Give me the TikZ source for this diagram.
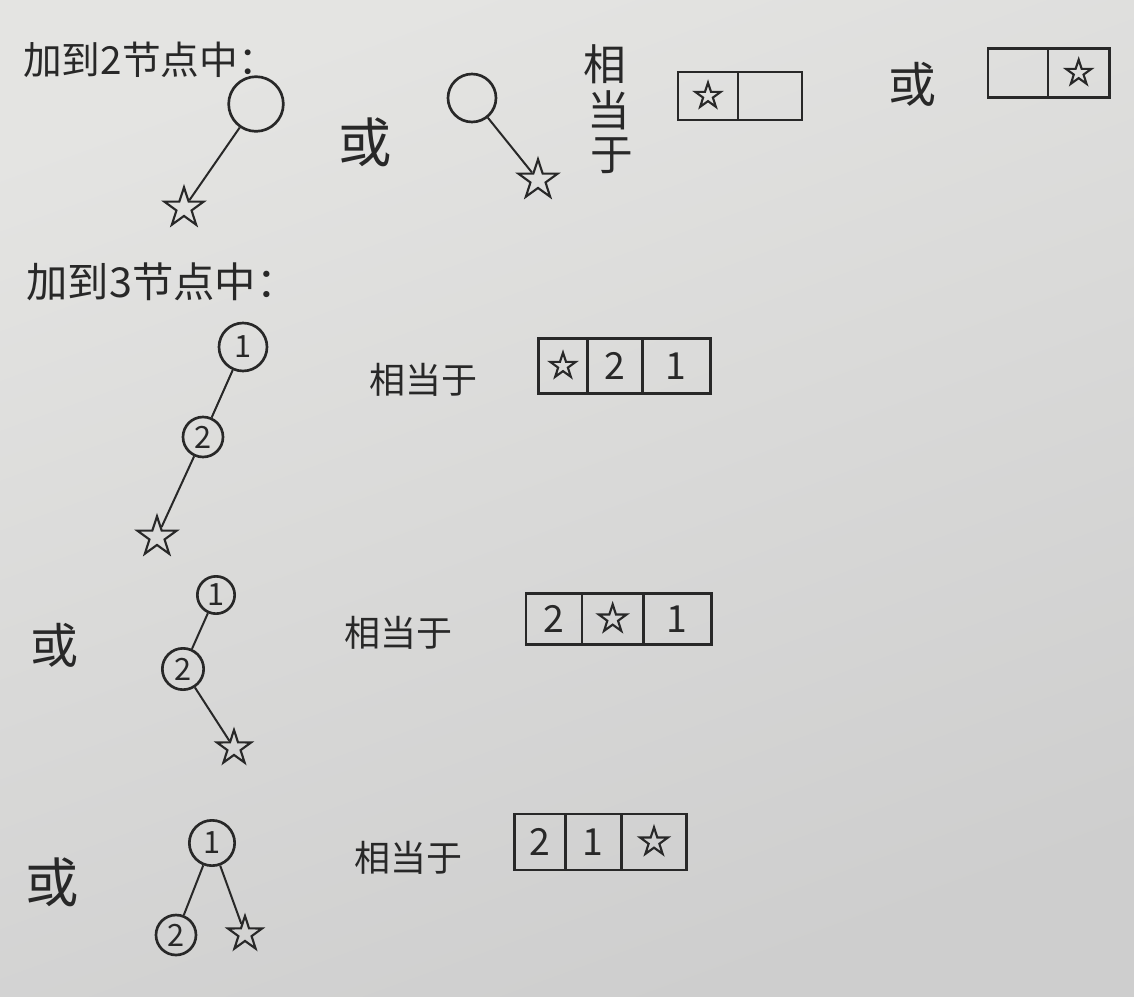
\documentclass[tikz,border=0pt]{standalone}
\usepackage{fontspec}
\newfontfamily\cjk{Noto Sans CJK SC}
\usetikzlibrary{shapes.geometric}
\definecolor{paperA}{RGB}{228,228,226}
\definecolor{paperB}{RGB}{206,206,206}
\definecolor{ink}{RGB}{40,40,40}
\begin{document}
\begin{tikzpicture}[x=0.75pt,y=-0.75pt,
  lbl/.style={text=ink, inner sep=0pt, font=\cjk\fontsize{#1}{#1}\selectfont},
  lbl/.default=28,
  tnode/.style={circle, draw=ink, line width=2pt, inner sep=0pt, text=ink, font=\cjk\fontsize{23}{23}\selectfont},
  starnode/.style={star, star points=5, star point ratio=2.6, draw=ink, line width=1.6pt, inner sep=0pt, minimum size=#1},
  starnode/.default=31pt,
  cell/.style={rectangle, draw=ink, line width=1.8pt, inner sep=0pt, outer sep=0pt, text=ink, font=\cjk\fontsize{28}{28}\selectfont},
  edge/.style={draw=ink, line width=1.5pt}]
\useasboundingbox (0,0) rectangle (1134,996);
\shade[top color=paperA, bottom color=paperB, shading angle=20] (0,0) rectangle (1134,996);

% ---------- section 1 ----------
\node[lbl=29] (t1) at (150,60) {加到2节点中：};
\node[tnode, minimum size=41pt] (a1) at (256,104) {};
\node[starnode] (as) at (184,208) {};
\draw[edge] (a1) -- (as);

\node[lbl=40] (or1) at (365,142) {或};
\node[tnode, minimum size=36pt] (b1) at (472,98) {};
\node[starnode] (bs) at (538,180) {};
\draw[edge] (b1) -- (bs);

\node[lbl=32] (eqa) at (605,64) {相};
\node[lbl=32] (eqb) at (609,110) {当};
\node[lbl=32] (eqc) at (612,156) {于};

\node[cell, minimum width=45pt, minimum height=36pt] (c11) at (708,96) {};
\node[cell, minimum width=48pt, minimum height=36pt, anchor=west] (c12) at (c11.east) {};
\node[starnode=20pt] (c11s) at (c11) {};

\node[lbl=36] (or2) at (912,84) {或};
\node[cell, minimum width=45pt, minimum height=37pt] (c21) at (1018,73) {};
\node[cell, minimum width=46pt, minimum height=37pt, anchor=west] (c22) at (c21.east) {};
\node[starnode=20pt] (c22s) at (c22) {};

% ---------- section 2 ----------
\node[lbl=31] (t2) at (162,282) {加到3节点中：};
\node[tnode, minimum size=36pt] (n1) at (243,347) {1};
\node[tnode, minimum size=30pt] (n2) at (203,437) {2};
\node[starnode] (ns) at (157,537) {};
\draw[edge] (n1) -- (n2);
\draw[edge] (n2) -- (ns);

\node[lbl=27] (eq2) at (423,380) {相当于};
\node[cell, minimum width=37pt, minimum height=41pt] (d1) at (563,366) {};
\node[cell, minimum width=41pt, minimum height=41pt, anchor=west] (d2) at (d1.east) {2};
\node[cell, minimum width=51pt, minimum height=41pt, anchor=west] (d3) at (d2.east) {1};
\node[starnode=20pt] (d1s) at (d1) {};

% ---------- section 3 ----------
\node[lbl=36] (or3) at (55,645) {或};
\node[tnode, minimum size=28pt] (m1) at (216,595) {1};
\node[tnode, minimum size=31pt] (m2) at (183,669) {2};
\node[starnode=27pt] (ms) at (234,748) {};
\draw[edge] (m1) -- (m2);
\draw[edge] (m2) -- (ms);

\node[lbl=27] (eq3) at (398,633) {相当于};
\node[cell, minimum width=42pt, minimum height=38pt] (e1) at (554,619) {2};
\node[cell, minimum width=46pt, minimum height=38pt, anchor=west] (e2) at (e1.east) {};
\node[cell, minimum width=51pt, minimum height=38pt, anchor=west] (e3) at (e2.east) {1};
\node[starnode=22pt] (e2s) at (e2) {};

% ---------- section 4 ----------
\node[lbl=40] (or4) at (52,882) {或};
\node[tnode, minimum size=34pt] (k1) at (212,843) {1};
\node[tnode, minimum size=30pt] (k2) at (176,935) {2};
\node[starnode=27pt] (ks) at (245,934) {};
\draw[edge] (k1) -- (k2);
\draw[edge] (k1) -- (ks);

\node[lbl=27] (eq4) at (408,858) {相当于};
\node[cell, minimum width=38pt, minimum height=42pt] (f1) at (540,842) {2};
\node[cell, minimum width=42pt, minimum height=42pt, anchor=west] (f2) at (f1.east) {1};
\node[cell, minimum width=49pt, minimum height=42pt, anchor=west] (f3) at (f2.east) {};
\node[starnode=22pt] (f3s) at (f3) {};
\end{tikzpicture}
\end{document}
